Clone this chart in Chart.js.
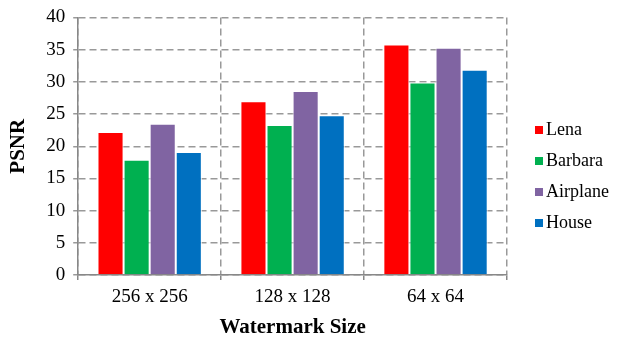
<!DOCTYPE html>
<html>
<head>
<meta charset="utf-8">
<script src="https://cdn.jsdelivr.net/npm/chart.js@4/dist/chart.umd.min.js"></script>
<style>
  html, body { margin: 0; padding: 0; background: #fff; }
  #wrap { position: relative; width: 618px; height: 340px; }
  #legend {
    position: absolute; left: 535px; top: 117px;
    font-family: "Liberation Serif", serif;
    font-size: 18px; color: #000;
  }
  #legend .item { height: 31px; line-height: 24px; white-space: nowrap; }
  #legend .box { display: inline-block; width: 8px; height: 8px; margin-right: 3px; vertical-align: 1px; }
</style>
</head>
<body>
<div id="wrap">
  <canvas id="chart" width="618" height="340"></canvas>
  <div id="legend"></div>
</div>
<script>
const categories = ["256 x 256", "128 x 128", "64 x 64"];
const seriesNames = ["Lena", "Barbara", "Airplane", "House"];
const seriesColors = ["#ff0000", "#00b050", "#8064a2", "#0070c0"];

const lena = [22.2, 27.0, 35.8];
const barbara = [17.9, 23.3, 29.9];
const airplane = [23.5, 28.6, 35.3];
const house = [19.1, 24.8, 31.9];

const seriesValues = [lena, barbara, airplane, house];

const serif = "Liberation Serif";
const gridColor = "#999999";

const datasets = seriesNames.map((name, i) => ({
  label: name,
  data: seriesValues[i],
  backgroundColor: seriesColors[i],
  borderColor: "#ffffff",
  borderWidth: 1,
  categoryPercentage: 0.73,
  barPercentage: 1.0
}));

new Chart(document.getElementById("chart"), {
  type: "bar",
  data: { labels: categories, datasets },
  options: {
    responsive: false,
    animation: false,
    layout: { padding: { top: 6, right: 111, left: 6, bottom: 0 } },
    plugins: {
      legend: { display: false },
      tooltip: { enabled: false }
    },
    scales: {
      x: {
        offset: true,
        grid: {
          offset: true,
          color: gridColor,
          lineWidth: 1.5,
          tickLength: 5,
          tickColor: "#888888",
          tickWidth: 1.5
        },
        border: { display: true, color: "#888888", width: 1.5, dash: [7, 4] },
        ticks: {
          color: "#000",
          padding: 6,
          font: { family: serif, size: 19 }
        },
        title: {
          display: true,
          text: "Watermark Size",
          color: "#000",
          padding: { top: 0, bottom: 0 },
          font: { family: serif, size: 21, weight: "bold" }
        }
      },
      y: {
        min: 0,
        max: 40,
        ticks: {
          stepSize: 5,
          color: "#000",
          padding: 8,
          font: { family: serif, size: 19, lineHeight: 1 }
        },
        grid: {
          color: gridColor,
          lineWidth: 1.5,
          tickLength: 5
        },
        border: { display: true, color: "#888888", width: 1.5, dash: [7, 4] },
        title: {
          display: true,
          text: "PSNR",
          color: "#000",
          padding: { top: 0, bottom: 7 },
          font: { family: serif, size: 21, weight: "bold" }
        }
      }
    }
  }
});

const legendEl = document.getElementById("legend");
seriesNames.forEach((name, i) => {
  const item = document.createElement("div");
  item.className = "item";
  item.innerHTML = `<span class="box" style="background:${seriesColors[i]}"></span>${name}`;
  legendEl.appendChild(item);
});
</script>
</body>
</html>
